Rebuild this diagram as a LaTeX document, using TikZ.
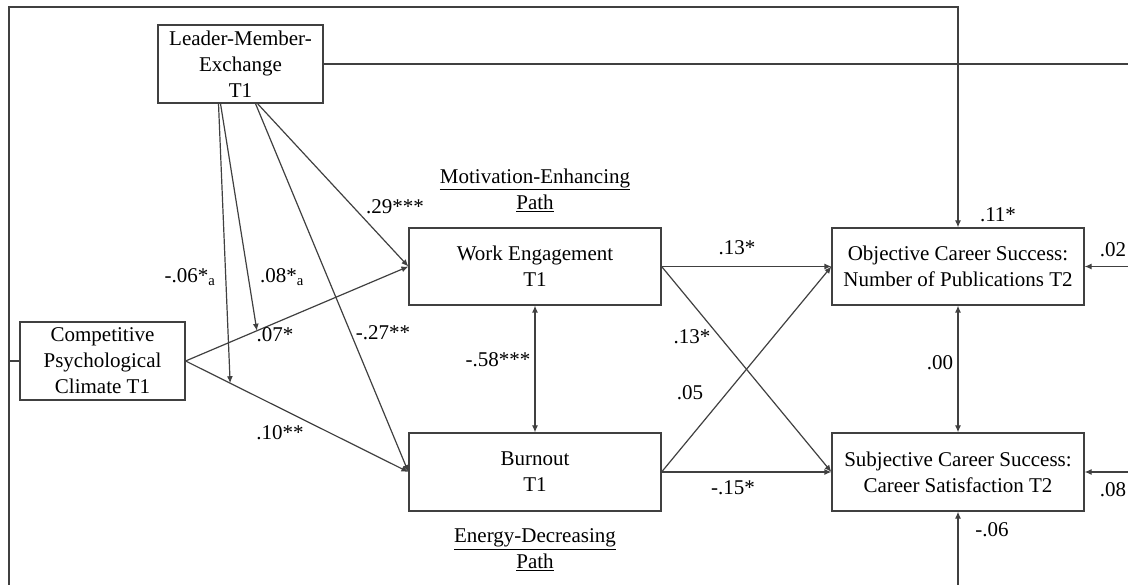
\documentclass[tikz,border=0pt]{standalone}
\usepackage{fontspec}
\setmainfont{Liberation Serif}
\usetikzlibrary{calc,arrows.meta}
\begin{document}
\begin{tikzpicture}[x=1pt,y=-1pt,line width=1.2pt,>={Latex[length=7pt,width=6pt]},
  every node/.style={font=\fontsize{21}{26}\selectfont},
  var/.style={draw=black!75,align=center,inner sep=0pt},
  link/.style={->,black!75}]
  \useasboundingbox (0,0) rectangle (1128,585);
  % variables
  \node [var,minimum width=165,minimum height=78] (lmx) at (240.5,64) {Leader-Member-\\Exchange\\T1};
  \node [var,minimum width=165,minimum height=78] (comp) at (102.5,361) {Competitive\\Psychological\\Climate T1};
  \node [var,minimum width=252,minimum height=77] (we) at (535,266.5) {Work Engagement\\T1};
  \node [var,minimum width=252,minimum height=78] (bo) at (535,472) {Burnout\\T1};
  \node [var,minimum width=252,minimum height=77] (obj) at (958,266.5) {Objective Career Success:\\Number of Publications T2};
  \node [var,minimum width=252,minimum height=78] (sub) at (958,472) {Subjective Career Success:\\Career Satisfaction T2};
  \node [align=center] (mot) at (535,190) {\underline{Motivation-Enhancing}\\\underline{Path}};
  \node [align=center] (ene) at (535,550) {\underline{Energy-Decreasing}\\\underline{Path}};
  % control paths
  \coordinate (lft) at (9,361);
  \draw [link] (comp.west) -- (lft) -- (9,7) -| (obj.north);
  \draw [black!75] (lft) -- (9,585);
  \draw [link] (958,585) -- (sub.south);
  \draw [black!75] (lmx.east) -- (1128,64);
  \draw [link] (1128,266.5) -- (obj.east);
  \draw [link] (1128,472) -- (sub.east);
  % main paths
  \draw [link] (comp.east) -- (we.west) coordinate[pos=0.32] (mwe);
  \draw [link] (comp.east) -- (bo.west) coordinate[pos=0.2] (mbo);
  \draw [link] ($(lmx.south)+(-22,0)$) -- (mbo);
  \draw [link] ($(lmx.south)+(-20,0)$) -- (mwe);
  \draw [link] ($(lmx.south)+(15,0)$) -- (bo.west);
  \draw [link] ($(lmx.south)+(17,0)$) -- (we.west);
  \draw [link] (we.east) -- (obj.west);
  \draw [link] (we.east) -- (sub.west);
  \draw [link] (bo.east) -- (obj.west);
  \draw [link] (bo.east) -- (sub.west);
  \draw [<->,black!75] (we.south) -- (bo.north);
  \draw [<->,black!75] (obj.south) -- (sub.north);
  % coefficients
  \node (c1) at (395,207) {.29***};
  \node (c2) at (190,277) {-.06*\textsubscript{a}};
  \node (c3) at (282,277) {.08*\textsubscript{a}};
  \node (c4) at (275,335) {.07*};
  \node (c5) at (383,333) {-.27**};
  \node (c6) at (280,433) {.10**};
  \node (c7) at (498,360) {-.58***};
  \node (c8) at (737,248) {.13*};
  \node (c9) at (692,337) {.13*};
  \node (c10) at (690,393) {.05};
  \node (c11) at (733,488) {-.15*};
  \node (c12) at (998,215) {.11*};
  \node (c13) at (1113,250) {.02};
  \node (c14) at (940,363) {.00};
  \node (c15) at (1113,490) {.08};
  \node (c16) at (992,530) {-.06};
\end{tikzpicture}
\end{document}
